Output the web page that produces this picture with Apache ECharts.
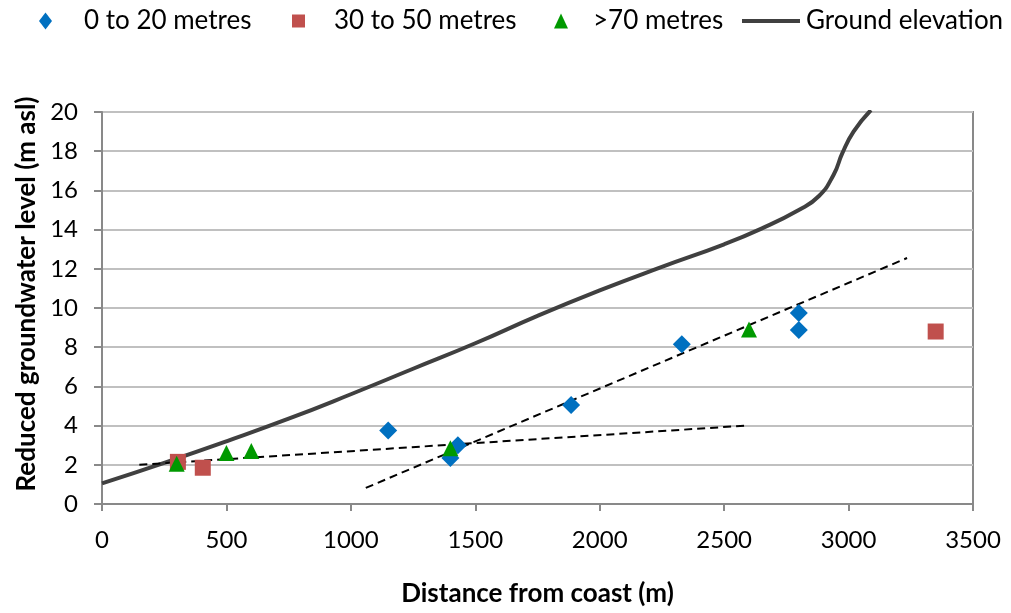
<!DOCTYPE html>
<html>
<head>
<meta charset="utf-8">
<script src="https://cdn.jsdelivr.net/npm/echarts@6/dist/echarts.min.js"></script>
<style>
html,body{margin:0;padding:0;background:#fff;}
#chart{width:1011px;height:613px;}
</style>
</head>
<body>
<div id="chart"></div>
<script>
// ---- data ----
const shallow = [[1150, 3.75], [1400, 2.35], [1430, 3.0], [1885, 5.05], [2330, 8.15], [2800, 9.75], [2800, 8.88]];
const middle = [[305, 2.15], [405, 1.85], [3350, 8.8]];
const deep = [[300, 2.05], [500, 2.6], [600, 2.7], [1400, 2.85], [2600, 8.9]];
const ground = [[0, 1.05], [250, 2.1], [500, 3.2], [750, 4.35], [1000, 5.6], [1250, 6.9], [1500, 8.2],
  [1750, 9.6], [2000, 10.9], [2250, 12.1], [2500, 13.25], [2650, 14.05], [2800, 15.0],
  [2880, 15.7], [2940, 16.8], [2975, 17.9], [3020, 19.0], [3090, 20.1]];
const trendShallow = [[150, 2.0], [2590, 4.0]];
const trendDeep = [[1060, 0.82], [3235, 12.55]];
const names = ['0 to 20 metres', '30 to 50 metres', '>70 metres', 'Ground elevation'];

const FONT = 'Lato';
const chart = echarts.init(document.getElementById('chart'), null, {renderer: 'canvas'});
const legendText = {fontFamily: FONT, fontSize: 26, color: '#000'};
function lg(name, left, w, h, pad, icon) {
  const item = icon ? {name: name, icon: icon} : {name: name};
  return {data: [item], left: left, top: 8, itemWidth: w, itemHeight: h, padding: 0,
    textStyle: Object.assign({}, legendText, {padding: [0, 0, 0, pad]})};
}
const noComma = v => String(v);
chart.setOption({
  animation: false,
  legend: [
    lg(names[0], 39, 13, 17, 27),
    lg(names[1], 292, 13, 13, 24),
    lg(names[2], 554, 14, 15, 20),
    lg(names[3], 742, 58, 4, 1, 'rect')
  ],
  grid: {left: 102, right: 38, top: 112, bottom: 109, show: true, borderColor: '#898989', borderWidth: 2, backgroundColor: 'transparent'},
  xAxis: {
    type: 'value', min: 0, max: 3500, interval: 500,
    name: 'Distance from coast (m)', nameLocation: 'middle', nameGap: 77,
    nameTextStyle: {fontFamily: FONT, fontSize: 26, fontWeight: 'bold', color: '#000'},
    axisLine: {show: true, lineStyle: {color: '#898989', width: 2}},
    axisTick: {show: true, inside: false, length: 7, lineStyle: {color: '#898989', width: 2}},
    axisLabel: {fontFamily: FONT, fontSize: 24, color: '#000', margin: 24, formatter: noComma},
    splitLine: {show: false}
  },
  yAxis: {
    type: 'value', min: 0, max: 20, interval: 2,
    name: 'Reduced groundwater level (m asl)', nameLocation: 'middle', nameGap: 58, nameRotate: 90,
    nameTextStyle: {fontFamily: FONT, fontSize: 26, fontWeight: 'bold', color: '#000', padding: [0, 0, 0, 28]},
    axisLine: {show: true, lineStyle: {color: '#898989', width: 2}},
    axisTick: {show: true, inside: false, length: 8, lineStyle: {color: '#898989', width: 2}},
    axisLabel: {fontFamily: FONT, fontSize: 24, color: '#000', margin: 24, formatter: noComma},
    splitLine: {show: true, lineStyle: {color: '#c0c0c0', width: 2}}
  },
  series: [
    {name: names[3], type: 'line', data: ground, smooth: 0.5, symbol: 'none', z: 2,
      lineStyle: {color: '#404040', width: 4}, itemStyle: {color: '#404040'}},
    {name: 'trend1', type: 'line', data: trendShallow, symbol: 'none', silent: true, z: 3,
      lineStyle: {color: '#000', width: 2, type: [8, 5]}},
    {name: 'trend2', type: 'line', data: trendDeep, symbol: 'none', silent: true, z: 3,
      lineStyle: {color: '#000', width: 2, type: [8, 5]}},
    {name: names[0], type: 'scatter', data: shallow, symbol: 'diamond', symbolSize: 18, z: 4,
      itemStyle: {color: '#0070C0', opacity: 1}},
    {name: names[1], type: 'scatter', data: middle, symbol: 'rect', symbolSize: 16, z: 4,
      itemStyle: {color: '#C0504D', opacity: 1}},
    {name: names[2], type: 'scatter', data: deep, symbol: 'triangle', symbolSize: [16, 16], z: 5,
      itemStyle: {color: '#009900', opacity: 1}}
  ]
});
</script>
</body>
</html>
